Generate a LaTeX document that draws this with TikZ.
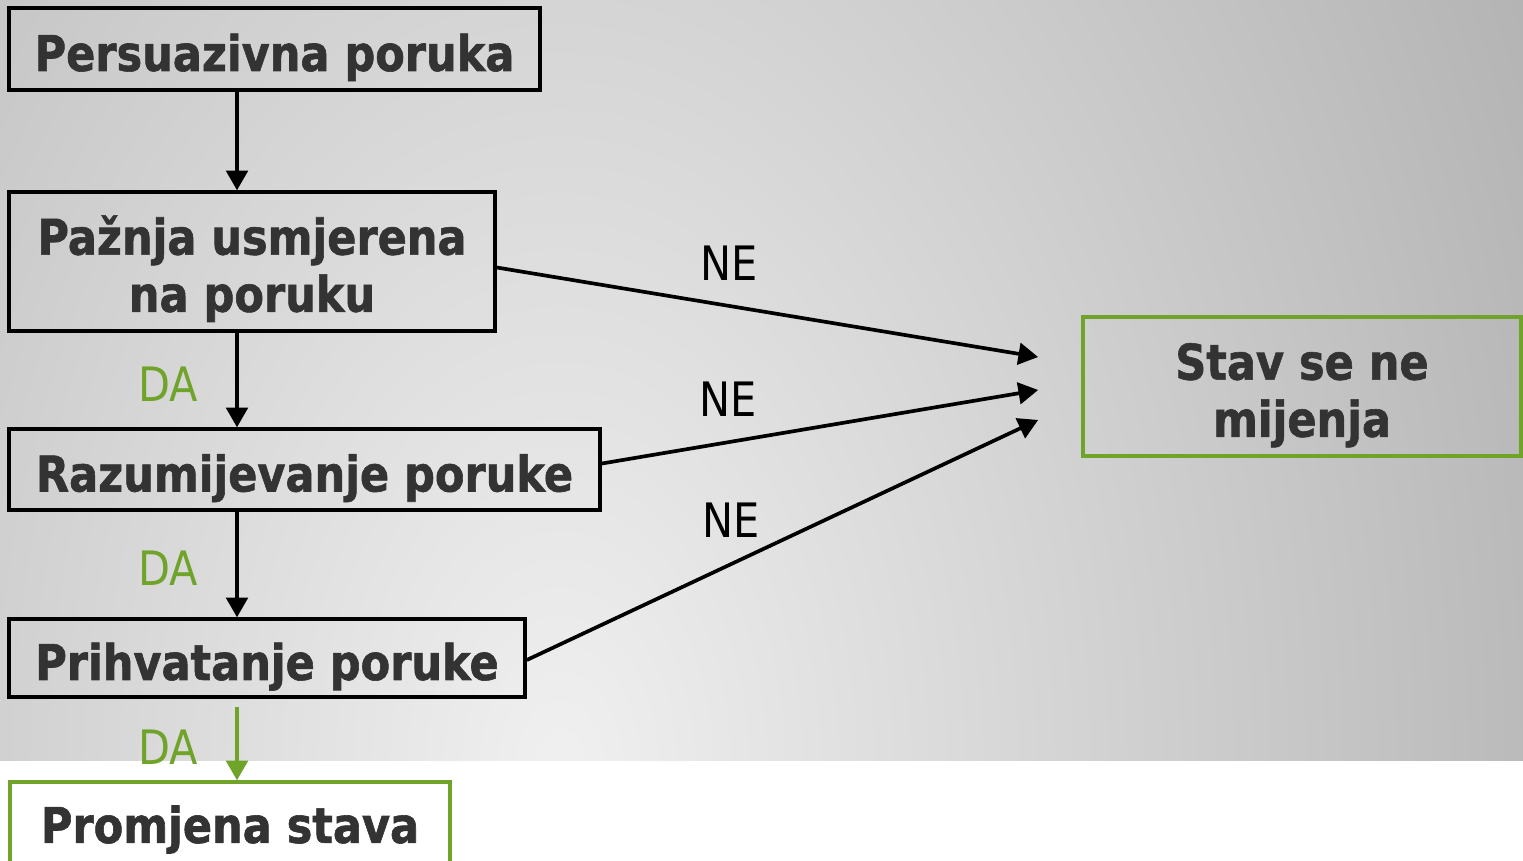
\documentclass[tikz,border=0pt]{standalone}
\usepackage{fontspec}
\usetikzlibrary{arrows}
\newfontfamily\boxfont[FakeStretch=0.875, BoldFeatures={FakeBold=1.2}]{DejaVu Sans}
\definecolor{txtgray}{HTML}{333333}
\definecolor{dagreen}{HTML}{6FA329}
\definecolor{bglight}{HTML}{F0F0F0}
\definecolor{bgdark}{HTML}{B0B0B0}

\tikzset{
  stage/.style={draw=black, line width=2.1pt, text=txtgray, align=center, inner sep=0pt,
    font=\boxfont\bfseries\fontsize{28}{32.5}\selectfont, text height=25pt, text depth=0pt},
  stagetwo/.style={stage, text height=57.2pt, text depth=0pt},
  result/.style={draw=dagreen},
  flow/.style={->, line width=2.1pt},
  answer/.style={font=\boxfont\fontsize{27}{30}\selectfont, inner sep=0pt},
  yes/.style={answer, text=dagreen, left=0.74cm, yshift=-0.08cm},
}

\begin{document}
\begin{tikzpicture}[x=0.02cm, y=-0.02cm, >=triangle 60]
  \useasboundingbox (0,0) rectangle (1523,860);
  \clip (0,0) rectangle (1523,860);
  \fill[white] (0,0) rectangle (1523,860);
  % grey backdrop
  \begin{scope}
    \clip (0,0) rectangle (1523,760);
    \shade[inner color=bglight, outer color=bgdark] (560,770) ellipse [x radius=1150, y radius=1800];
  \end{scope}

  \node[stage, minimum width=10.62cm, minimum height=1.64cm] (poruka) at (274.5,49) {Persuazivna poruka};
  \node[stagetwo, minimum width=9.72cm, minimum height=2.78cm] (paznja) at (252,261.5) {Pažnja usmjerena\\na poruku};
  \node[stage, minimum width=11.82cm, minimum height=1.62cm] (razum) at (304.5,469.5) {Razumijevanje poruke};
  \node[stage, minimum width=10.32cm, minimum height=1.56cm] (prihvat) at (267,658) {Prihvatanje poruke};
  \node[stage, result, fill=white, minimum width=8.8cm, minimum height=2cm, text depth=12.6pt] (promjena) at (230,832) {Promjena stava};
  \node[stagetwo, result, minimum width=8.76cm, minimum height=2.78cm] (stav) at (1302,386.5) {Stav se ne\\mijenja};

  \coordinate (os) at (237,0);
  \coordinate (prijem) at (237,707);
  \coordinate (ne1) at (1038,357);
  \coordinate (ne2) at (1038,390);
  \coordinate (ne3) at (1038,420);

  % DA: down the chain
  \draw[flow] (poruka.south -| os) -- (paznja.north -| os);
  \draw[flow] (paznja.south -| os) -- node[yes] {DA} (razum.north -| os);
  \draw[flow] (razum.south -| os) -- node[yes] {DA} (prihvat.north -| os);
  \draw[flow, draw=dagreen, fill=dagreen] (prijem) -- node[yes] {DA} (promjena.north -| os);

  % NE: no change
  \draw[flow] ([yshift=-0.12cm]paznja.east) -- node[answer, above=0.48cm, pos=0.43] {NE} (ne1);
  \draw[flow] ([yshift=0.12cm]razum.east) -- node[answer, above=0.48cm, pos=0.29] {NE} (ne2);
  \draw[flow] ([yshift=-0.04cm]prihvat.east) -- node[answer, above=0.5cm, pos=0.40] {NE} (ne3);
\end{tikzpicture}
\end{document}
